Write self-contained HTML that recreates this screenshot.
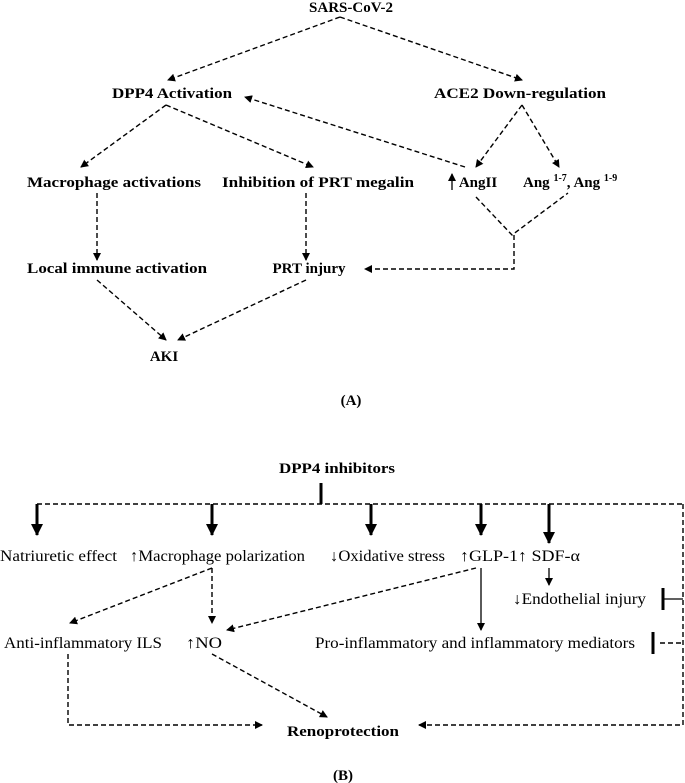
<!DOCTYPE html>
<html><head><meta charset="utf-8"><style>html,body{margin:0;padding:0;background:#fff}svg{display:block}</style></head>
<body>
<svg width="685" height="783" viewBox="0 0 685 783" xmlns="http://www.w3.org/2000/svg" font-family="Liberation Serif, serif">
<defs>
<marker id="a" markerWidth="8" markerHeight="8" refX="7" refY="4" orient="auto" markerUnits="userSpaceOnUse"><path d="M0,0 L8,4 L0,8 z" fill="#000"/></marker>
<marker id="b" markerWidth="12" markerHeight="12" refX="11" refY="6" orient="auto" markerUnits="userSpaceOnUse"><path d="M0,0 L12,6 L0,12 z" fill="#000"/></marker>
</defs>
<g fill="none" stroke="#000" stroke-width="1.4" stroke-dasharray="5,3" marker-end="url(#a)">
<line x1="340" y1="17" x2="168" y2="80"/>
<line x1="340" y1="17" x2="522" y2="80"/>
<line x1="166" y1="105" x2="81" y2="167"/>
<line x1="166" y1="105" x2="313" y2="167"/>
<line x1="465" y1="167" x2="245" y2="97"/>
<line x1="522" y1="105" x2="476" y2="167"/>
<line x1="522" y1="105" x2="559" y2="167"/>
<line x1="97" y1="193" x2="97" y2="260"/>
<line x1="306" y1="193" x2="306" y2="260"/>
<polyline points="476,197 512,235 568,193" marker-end="none"/>
<polyline points="514,235 514,269 365,269"/>
<line x1="97" y1="280" x2="166" y2="340"/>
<line x1="306" y1="280" x2="178" y2="340"/>
<!-- B -->
<line x1="37" y1="504" x2="683" y2="504" marker-end="none"/>
<polyline points="683,504 683,725 419,725"/>
<line x1="212" y1="568" x2="70" y2="623"/>
<line x1="212" y1="568" x2="212" y2="623"/>
<line x1="476" y1="568" x2="227" y2="630"/>
<line x1="660" y1="643" x2="683" y2="643" marker-end="none"/>
<polyline points="68,654 68,725 262,725"/>
<line x1="212" y1="654" x2="327" y2="717"/>
</g>
<g stroke="#000" stroke-width="3" marker-end="url(#b)">
<line x1="321" y1="483" x2="321" y2="504" marker-end="none"/>
<line x1="37" y1="504" x2="37" y2="535"/>
<line x1="212" y1="504" x2="212" y2="535"/>
<line x1="371" y1="504" x2="371" y2="535"/>
<line x1="481" y1="504" x2="481" y2="535"/>
<line x1="549" y1="504" x2="549" y2="543"/>
<line x1="663" y1="588" x2="663" y2="610" marker-end="none"/>
<line x1="653" y1="632" x2="653" y2="654" marker-end="none"/>
</g>
<g stroke="#000" stroke-width="1.3" marker-end="url(#a)">
<line x1="481" y1="568" x2="481" y2="630"/>
<line x1="549" y1="568" x2="549" y2="585"/>
<line x1="663" y1="599" x2="683" y2="599" marker-end="none"/>
<line x1="452" y1="190" x2="452" y2="174"/>
</g>
<g font-weight="bold" font-size="15" text-anchor="middle" fill="#000">
<text x="351" y="12">SARS-CoV-2</text>
<text x="172" y="98" textLength="120" lengthAdjust="spacingAndGlyphs">DPP4 Activation</text>
<text x="520" y="98" textLength="172" lengthAdjust="spacingAndGlyphs">ACE2 Down-regulation</text>
<text x="114" y="187" textLength="174" lengthAdjust="spacingAndGlyphs">Macrophage activations</text>
<text x="318" y="187" textLength="192" lengthAdjust="spacingAndGlyphs">Inhibition of PRT megalin</text>
<text x="478" y="187">AngII</text>
<text x="523" y="187" text-anchor="start">Ang <tspan font-size="10" dy="-6">1-7</tspan><tspan dy="6">, Ang </tspan><tspan font-size="10" dy="-6">1-9</tspan></text>
<text x="117" y="273" textLength="180" lengthAdjust="spacingAndGlyphs">Local immune activation</text>
<text x="309" y="273">PRT injury</text>
<text x="164" y="361">AKI</text>
<text x="351" y="405">(A)</text>
<text x="337" y="473" textLength="116" lengthAdjust="spacingAndGlyphs">DPP4 inhibitors</text>
<text x="343" y="736" textLength="112" lengthAdjust="spacingAndGlyphs">Renoprotection</text>
<text x="343" y="780">(B)</text>
</g>
<g font-size="16" fill="#000">
<text x="0" y="561" textLength="117" lengthAdjust="spacingAndGlyphs">Natriuretic effect</text>
<text x="130" y="561" textLength="175" lengthAdjust="spacingAndGlyphs">↑Macrophage polarization</text>
<text x="330" y="561" textLength="115" lengthAdjust="spacingAndGlyphs">↓Oxidative stress</text>
<text x="460" y="561" textLength="120" lengthAdjust="spacingAndGlyphs">↑GLP-1↑ SDF-α</text>
<text x="513" y="604" textLength="133" lengthAdjust="spacingAndGlyphs">↓Endothelial injury</text>
<text x="4" y="648" textLength="158" lengthAdjust="spacingAndGlyphs">Anti-inflammatory ILS</text>
<text x="186" y="648" textLength="36" lengthAdjust="spacingAndGlyphs">↑NO</text>
<text x="315" y="648" textLength="320" lengthAdjust="spacingAndGlyphs">Pro-inflammatory and inflammatory mediators</text>
</g>
</svg>
</body></html>
